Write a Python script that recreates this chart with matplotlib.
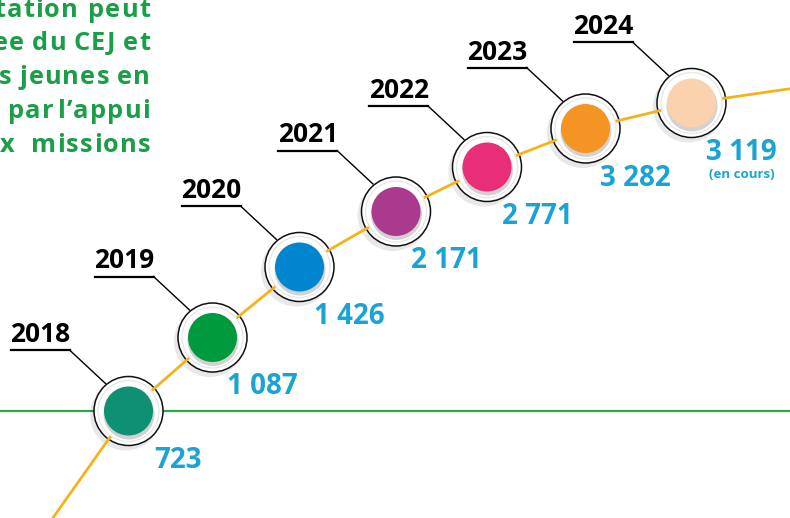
import matplotlib.pyplot as plt
from matplotlib.patches import Circle
from matplotlib.font_manager import FontProperties, findfont
from matplotlib.ft2font import FT2Font

# === Data ===
years = ["2018", "2019", "2020", "2021", "2022", "2023", "2024"]
values = ["723", "1 087", "1 426", "2 171", "2 771", "3 282", "3 119"]
notes = ["", "", "", "", "", "", "(en cours)"]
colors = ["#0e9072", "#009a3e", "#0086cf", "#ab3a8f", "#e72e76", "#f39423", "#fad3ae"]

# layout of the timeline (pixel space)
cx = [128.5, 212.5, 299.5, 396.0, 487.0, 585.5, 691.5]
cy = [411.0, 337.5, 267.0, 211.5, 167.0, 128.5, 103.0]
tail_start = (50, 522)
tail_end = (795, 88)

# cropped justified paragraph, top left (None = left edge cut, use fixed gap)
intro_lines = ["ntation peut", "ee du CEJ et", "es jeunes en", "par l\u2019appui", "x missions"]
intro_left = [None, None, None, 8, 0]
intro_gap = [10, 8, 8, None, None]
intro_right = 150
intro_base = [17, 50, 84, 118, 152]

GREEN = "#1a9e48"
BLUE = "#1ba3d3"
YELLOW = "#f5b31b"
FONT = "Open Sans"
INTRO_SIZE = 18.3
TRACK = 1.2

# === Figure ===
fig = plt.figure(figsize=(7.9, 5.18), dpi=100)
ax = fig.add_axes([0, 0, 1, 1])
ax.set_xlim(0, 790)
ax.set_ylim(518, 0)
ax.axis("off")

ft = FT2Font(findfont(FontProperties(family=FONT, weight="bold")))
ft.set_size(INTRO_SIZE, 100)


def advance(ch):
    return ft.load_char(ord(ch)).linearHoriAdvance / 65536


def word_width(w):
    return sum(advance(c) for c in w) + TRACK * (len(w) - 1)


# === Intro text (letter-spaced, justified) ===
for line, left, gap, base in zip(intro_lines, intro_left, intro_gap, intro_base):
    words = line.split()
    widths = [word_width(w) for w in words]
    if left is None:
        left = intro_right - sum(widths) - gap * (len(words) - 1)
    else:
        gap = (intro_right - left - sum(widths)) / max(len(words) - 1, 1)
    x = left
    for w, ww in zip(words, widths):
        pen = x
        for c in w:
            ax.text(pen, base, c, color=GREEN, fontsize=INTRO_SIZE,
                    fontweight="bold", family=FONT, ha="left", va="baseline")
            pen += advance(c) + TRACK
        x += ww + gap

# === Green baseline ===
ax.axhline(cy[0], color="#2aa84a", lw=1.6, zorder=1)

# === Yellow curve ===
xs = [tail_start[0]] + cx + [tail_end[0]]
ys = [tail_start[1]] + cy + [tail_end[1]]

# === Circles ===
r_out, r_mid, r_in = 34.5, 30.5, 24.5
for x, y, c in zip(cx, cy, colors):
    ax.add_patch(Circle((x - 3, y + 4), r_out + 1, color="#000000", alpha=0.09, lw=0, zorder=2))
    ax.add_patch(Circle((x, y), r_out, facecolor="white", edgecolor="#111111", lw=1.1, zorder=3))
    ax.add_patch(Circle((x, y), r_mid, facecolor="white", edgecolor="#e6e6e6", lw=0.9, zorder=5))
    ax.add_patch(Circle((x + 0.5, y + 3), r_in + 1, color="#d2d2d2", lw=0, zorder=6))
    ax.add_patch(Circle((x, y), r_in, color=c, lw=0, zorder=7))

ax.plot(xs, ys, color=YELLOW, lw=2, zorder=4, solid_capstyle="butt")

# === Year labels with leader lines ===
for x, y, yr in zip(cx, cy, years):
    ax.plot([x - 59, x - 23], [y - 61, y - 27.5], color="black", lw=1.0, zorder=2)
    ax.plot([x - 118, x - 59], [y - 61, y - 61], color="black", lw=1.6, zorder=2)
    ax.text(x - 118, y - 69, yr, fontsize=19, fontweight="bold", family=FONT,
            color="black", ha="left", va="baseline")

# === Values ===
for x, y, v, n in zip(cx, cy, values, notes):
    ax.text(x + 50, y + 57, v, fontsize=20, fontweight="bold", family=FONT,
            color=BLUE, ha="center", va="baseline")
    if n:
        ax.text(x + 50, y + 75, n, fontsize=9.5, fontweight="bold", family=FONT,
                color=BLUE, ha="center", va="baseline")

plt.savefig("out.png", dpi=100)
